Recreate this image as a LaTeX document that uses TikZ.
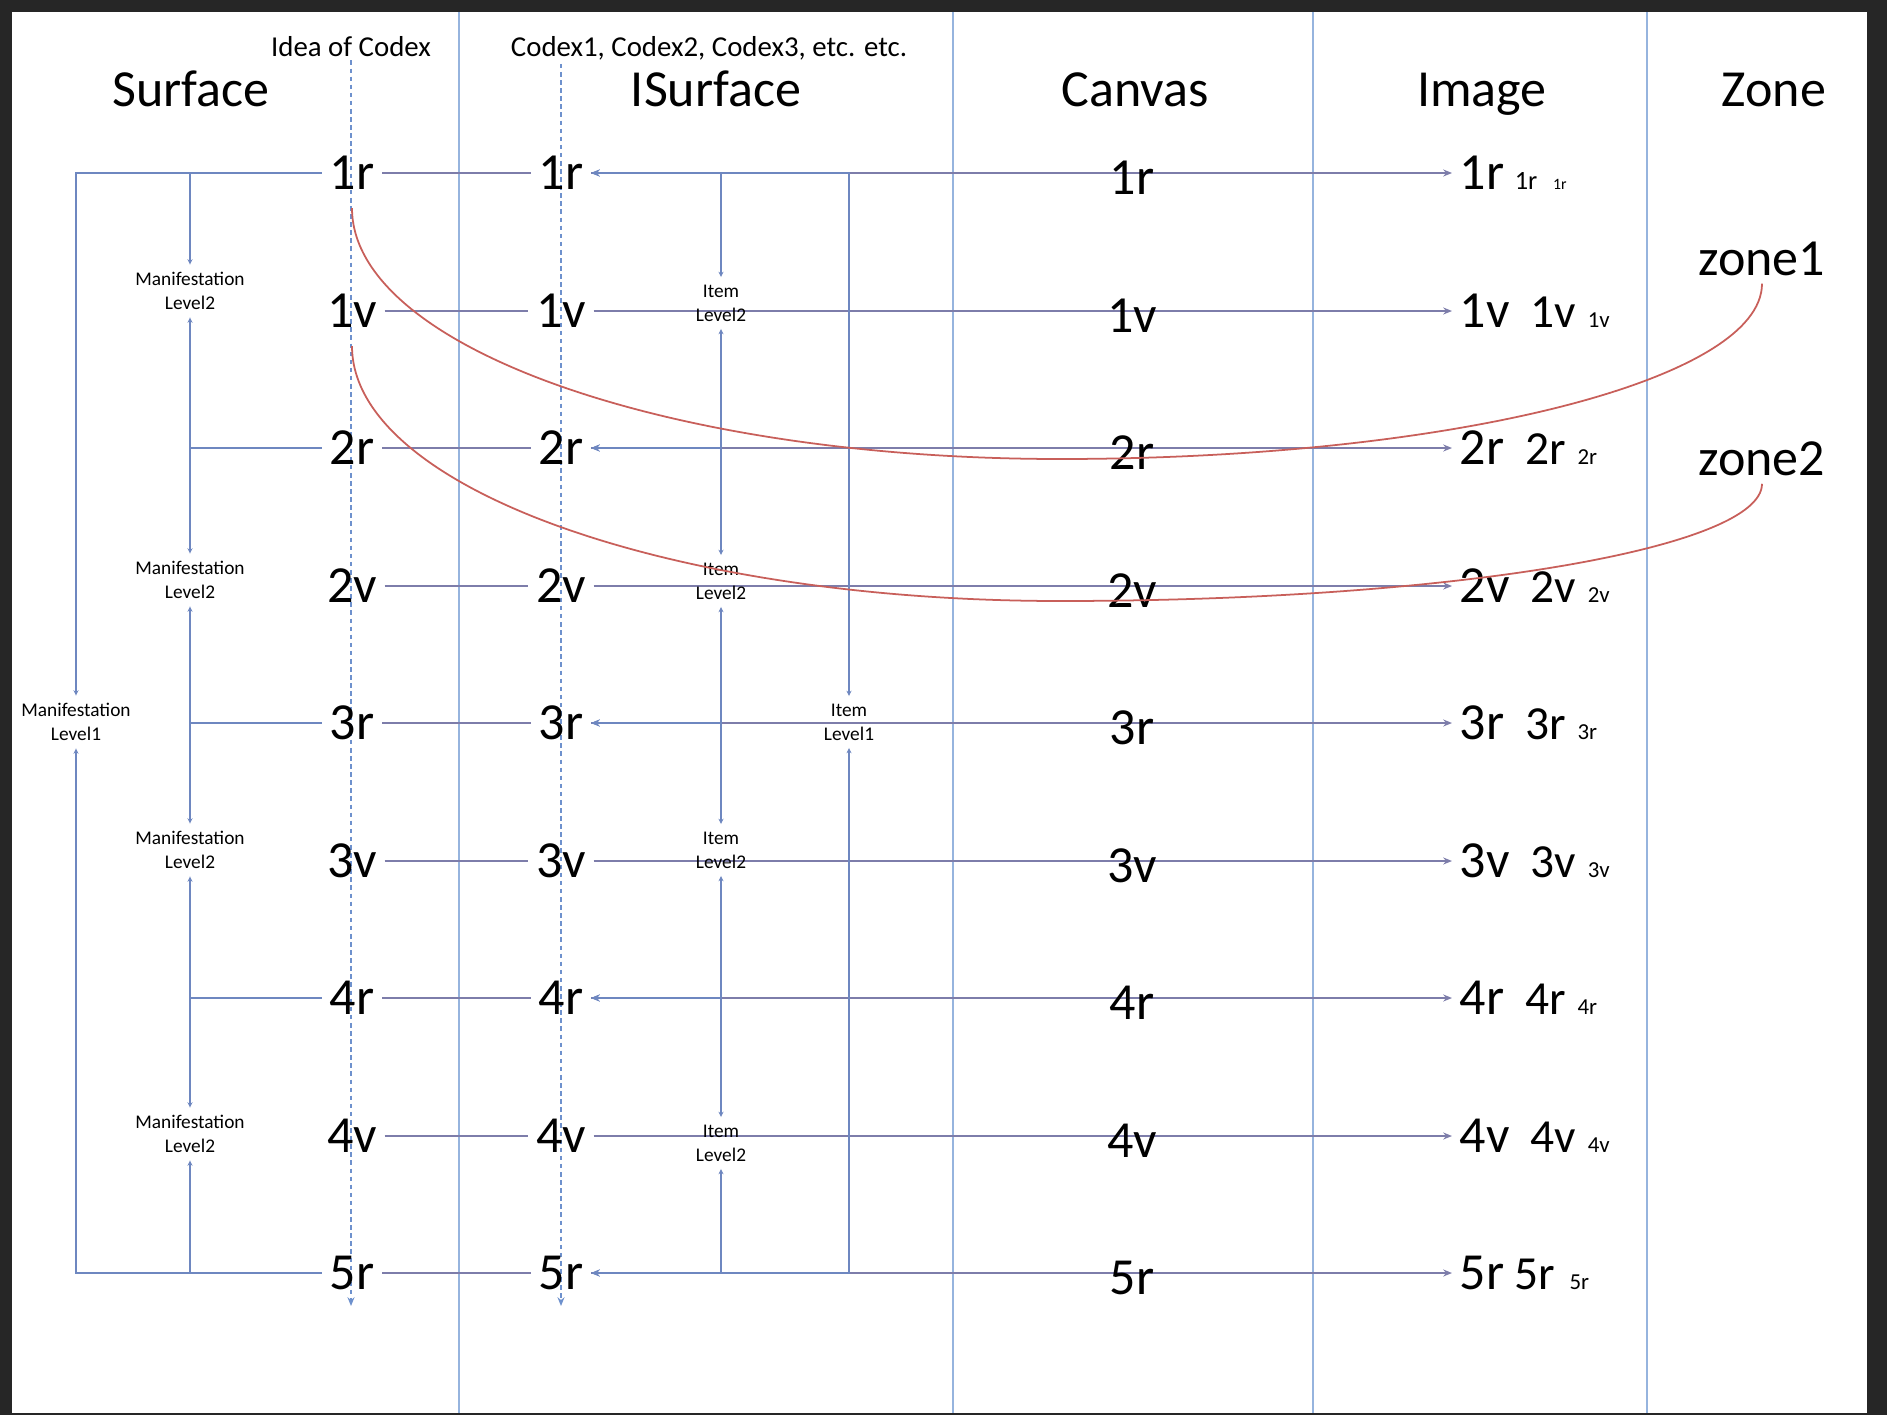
\documentclass[tikz,border=0pt]{standalone}
\usepackage{fontspec}
\setmainfont{Carlito}
\usetikzlibrary{arrows.meta,positioning}

\definecolor{framegray}{RGB}{38,38,38}
\definecolor{sepblue}{RGB}{150,180,222}
\definecolor{connblue}{RGB}{110,135,192}
\definecolor{rowgray}{RGB}{125,125,170}
\definecolor{guideblue}{RGB}{110,145,205}
\definecolor{zonered}{RGB}{200,95,90}

\tikzset{
    colsep/.style={sepblue, line width=0.45pt},
    guide/.style={guideblue, line width=0.45pt, dash pattern=on 1.3pt off 1pt},
    rowline/.style={rowgray, line width=0.55pt},
    conn/.style={connblue, line width=0.55pt},
    tip/.style={-{Stealth[length=2.5pt,width=2pt]}},
    backtip/.style={{Stealth[length=1.5pt,width=1.4pt]}-},
    bothtip/.style={{Stealth[length=1.5pt,width=1.4pt]}-{Stealth[length=2.5pt,width=2pt]}},
    header/.style={font=\fontsize{14.8}{16}\selectfont, anchor=base},
    note/.style={font=\fontsize{8.2}{9}\selectfont, anchor=base, inner sep=1pt},
    rowlabel/.style={font=\fontsize{14.8}{16}\selectfont, inner sep=2pt},
    imglabel/.style={rowlabel, anchor=west},
    level/.style={font=\fontsize{5.5}{6.8}\selectfont, align=center, inner sep=2pt},
    zonecurve/.style={zonered, line width=0.5pt},
}

\begin{document}
\begin{tikzpicture}[x=0.01cm, y=-0.01cm]
\useasboundingbox (0,0) rectangle (1887,1415);
\fill[framegray] (0,0) rectangle (1887,1415);
\fill[white] (12,12) rectangle (1867,1413);

\foreach \x in {459,953,1313,1647}
    \draw[colsep] (\x,12) -- (\x,1413);

\node[header] (surface) at (191,106) {Surface};
\node[header] (isurface) at (716,106) {ISurface};
\node[header] (canvas) at (1135,106) {Canvas};
\node[header] (image) at (1482,106) {Image};
\node[header] (zone) at (1774,106) {Zone};

\node[note] (idea) at (351,56) {Idea of Codex};
\node[note] (codices) at (709,56) {Codex1, Codex2, Codex3, etc. etc.};
\coordinate (sbot) at (351,1306);
\coordinate (ubot) at (561,1306);
\draw[guide, tip] (idea.south -| sbot) -- (sbot);
\draw[guide, tip] (codices.south -| ubot) -- (ubot);

\foreach \lab/\y in {1r/173,1v/311,2r/448,2v/586,3r/723,3v/861,4r/998,4v/1136,5r/1273} {
    \node[rowlabel] (s\lab) at (352,\y) {\lab};
    \node[rowlabel] (u\lab) at (561,\y) {\lab};
}
\foreach \lab/\y/\ga/\sb/\gb/\sc in {1r/173/3pt/7.5/4.5pt/4.5,
    1v/311/6pt/13.5/3.3pt/6.5, 2r/448/6pt/13.5/3.3pt/6.5,
    2v/586/6pt/13.5/3.3pt/6.5, 3r/723/6pt/13.5/3.3pt/6.5,
    3v/861/6pt/13.5/3.3pt/6.5, 4r/998/6pt/13.5/3.3pt/6.5,
    4v/1136/6pt/13.5/3.3pt/6.5, 5r/1273/3pt/13.5/4pt/6.5}
    \node[imglabel] (i\lab) at (1452,\y) {\lab\hspace{\ga}{\fontsize{\sb}{\sb}\selectfont\lab}\hspace{\gb}{\fontsize{\sc}{\sc}\selectfont\lab}};

\foreach \lab in {1r,1v,2r,2v,3r,3v,4r,4v,5r} {
    \draw[rowline] (s\lab) -- (u\lab);
    \draw[rowline, tip] (u\lab) -- (i\lab.west);
}
\foreach \lab/\y in {1r/173,1v/311,2r/448,2v/586,3r/723,3v/861,4r/998,4v/1136,5r/1273}
    \node[rowlabel] (c\lab) at (1132,\y+5) {\lab};

\node[level] (ml1) at (76,722) {Manifestation\\Level1};
\node[level] (ml2a) at (190,291) {Manifestation\\Level2};
\node[level] (ml2b) at (190,580) {Manifestation\\Level2};
\node[level] (ml2c) at (190,850) {Manifestation\\Level2};
\node[level] (ml2d) at (190,1134) {Manifestation\\Level2};
\node[level] (il1) at (849,722) {Item\\Level1};
\node[level] (il2a) at (721,303) {Item\\Level2};
\node[level] (il2b) at (721,581) {Item\\Level2};
\node[level] (il2c) at (721,850) {Item\\Level2};
\node[level] (il2d) at (721,1143) {Item\\Level2};

\draw[conn, backtip] (ml1.north) |- (s1r.west);
\draw[conn, backtip] (ml1.south) |- (s5r.west);
\draw[conn, backtip] (ml2a.north) |- (s1r.west);
\draw[conn, backtip] (ml2a.south) |- (s2r.west);
\draw[conn, backtip] (ml2b.north) |- (s2r.west);
\draw[conn, backtip] (ml2b.south) |- (s3r.west);
\draw[conn, backtip] (ml2c.north) |- (s3r.west);
\draw[conn, backtip] (ml2c.south) |- (s4r.west);
\draw[conn, backtip] (ml2d.north) |- (s4r.west);
\draw[conn, backtip] (ml2d.south) |- (s5r.west);

\draw[conn, bothtip] (il1.north) |- (u1r.east);
\draw[conn, bothtip] (il1.south) |- (u5r.east);
\draw[conn, bothtip] (il2a.north) |- (u1r.east);
\draw[conn, bothtip] (il2a.south) |- (u2r.east);
\draw[conn, bothtip] (il2b.north) |- (u2r.east);
\draw[conn, bothtip] (il2b.south) |- (u3r.east);
\draw[conn, bothtip] (il2c.north) |- (u3r.east);
\draw[conn, bothtip] (il2c.south) |- (u4r.east);
\draw[conn, bothtip] (il2d.north) |- (u4r.east);
\draw[conn, bothtip] (il2d.south) |- (u5r.east);

\node[rowlabel] (zone1) at (1762,259) {zone1};
\node[rowlabel] (zone2) at (1762,459) {zone2};
\coordinate (dip1) at (1060,459);
\coordinate (dip2) at (1060,601);
\draw[zonecurve] ([yshift=-3pt]s1r.south) .. controls +(0,139) and +(-392,0) .. (dip1)
    .. controls +(389,0) and +(0,97) .. (zone1.south);
\draw[zonecurve] ([yshift=-3pt]s1v.south) .. controls +(0,141) and +(-392,0) .. (dip2)
    .. controls +(389,0) and +(0,65) .. (zone2.south);
\end{tikzpicture}
\end{document}
